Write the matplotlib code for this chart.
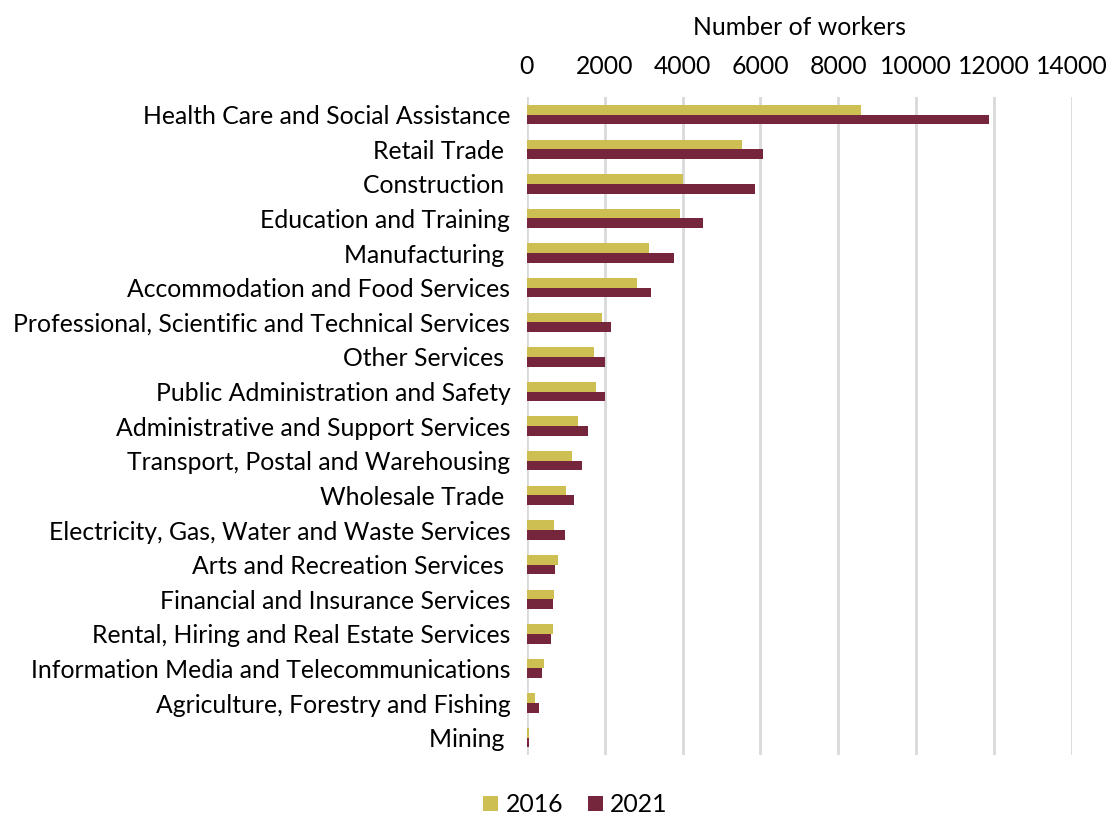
import matplotlib.pyplot as plt
import numpy as np

industries = [
    'Health Care and Social Assistance', 'Retail Trade ', 'Construction ',
    'Education and Training', 'Manufacturing ', 'Accommodation and Food Services',
    'Professional, Scientific and Technical Services', 'Other Services ',
    'Public Administration and Safety', 'Administrative and Support Services',
    'Transport, Postal and Warehousing', 'Wholesale Trade ',
    'Electricity, Gas, Water and Waste Services', 'Arts and Recreation Services ',
    'Financial and Insurance Services', 'Rental, Hiring and Real Estate Services',
    'Information Media and Telecommunications', 'Agriculture, Forestry and Fishing',
    'Mining ',
]
workers_2016 = [8590, 5540, 4000, 3940, 3140, 2830, 1940, 1720, 1770, 1320,
                1170, 1010, 700, 800, 700, 670, 430, 220, 60]
workers_2021 = [11890, 6060, 5850, 4520, 3790, 3180, 2170, 2000, 2000, 1560,
                1420, 1210, 970, 730, 670, 630, 390, 320, 60]
xticks = [0, 2000, 4000, 6000, 8000, 10000, 12000, 14000]

plt.rcParams['font.family'] = ['Lato', 'DejaVu Sans']
fs = 17.8

fig = plt.figure(figsize=(11.07, 8.18), dpi=100)
ax = fig.add_axes([0.476, 0.077, 0.492, 0.804])

y = np.arange(len(industries))
h = 0.28
ax.barh(y - h / 2, workers_2016, height=h, color='#CDBF52', label='2016', zorder=3)
ax.barh(y + h / 2, workers_2021, height=h, color='#75263C', label='2021', zorder=3)

ax.set_ylim(len(industries) - 0.5, -0.5)
ax.set_yticks(y)
ax.set_yticklabels(industries, fontsize=fs)
ax.set_xlim(0, 14000)
ax.set_xticks(xticks)
ax.set_xticklabels([str(v) for v in xticks], fontsize=fs)
ax.xaxis.tick_top()
ax.xaxis.set_label_position('top')
ax.set_xlabel('Number of workers', fontsize=fs, labelpad=14)
ax.tick_params(axis='x', length=0, pad=14)
ax.tick_params(axis='y', length=0, pad=12)
ax.grid(axis='x', color='#D9D9D9', linewidth=2, zorder=0)
for s in ax.spines.values():
    s.set_visible(False)

fig.legend(loc='lower center', bbox_to_anchor=(0.52, -0.025), ncol=2, frameon=False,
           fontsize=fs, handlelength=0.6, handleheight=0.6, columnspacing=1.0,
           handletextpad=0.3)

fig.savefig('out.png', dpi=100)
